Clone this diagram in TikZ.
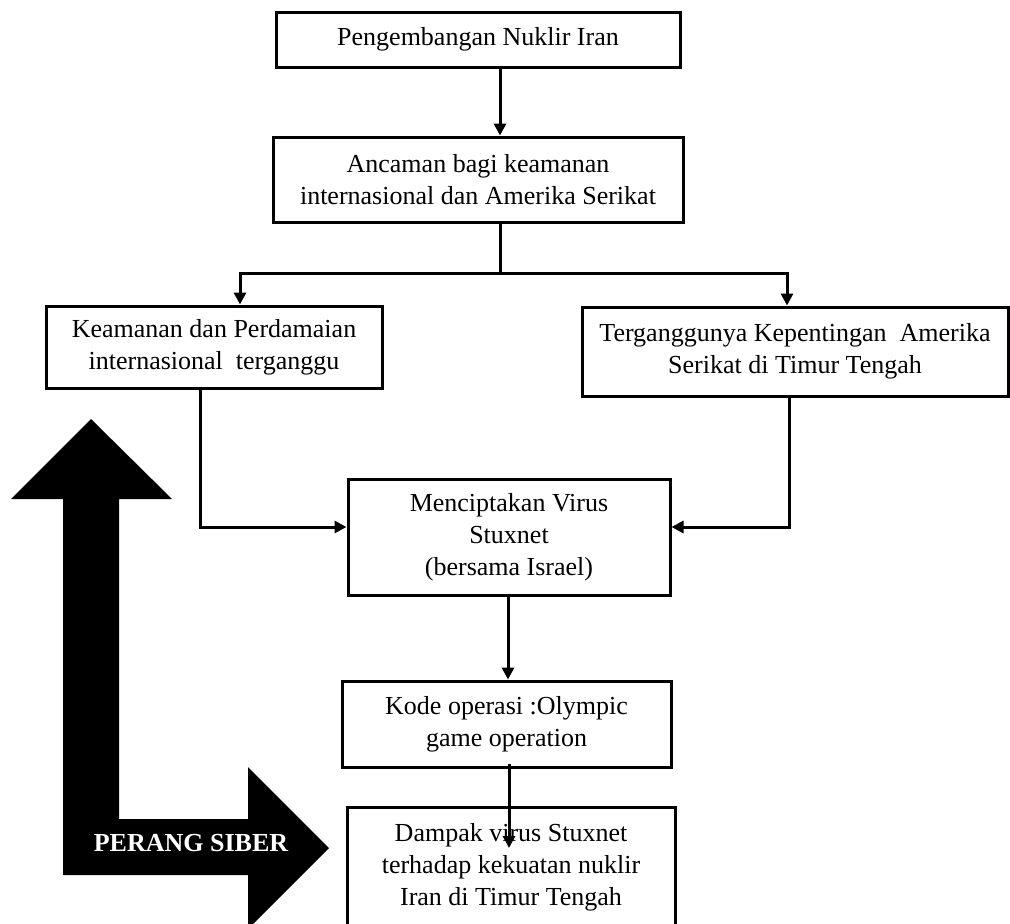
\documentclass[tikz,border=0pt]{standalone}
\usepackage{fontspec}
\setmainfont{Liberation Serif}
\usetikzlibrary{arrows.meta}
\begin{document}
\begin{tikzpicture}[x=1pt,y=-1pt,
  box/.style={draw,line width=3pt,inner sep=0pt,align=center,
    font=\fontsize{26}{32}\selectfont},
  arr/.style={line width=3pt,-{Triangle[length=12pt,width=12pt]}},
  con/.style={line width=3pt}]
\useasboundingbox (0,0) rectangle (1010,924);
\clip (0,0) rectangle (1010,924);
% boxes
\node[box,minimum width=404pt,minimum height=55pt] (b1) at (478,39.5) {Pengembangan Nuklir Iran};
\node[box,minimum width=410pt,minimum height=85pt] (b2) at (478,179.5) {Ancaman bagi keamanan\\internasional dan Amerika Serikat};
\node[box,minimum width=336pt,minimum height=82pt] (b3) at (214,347) {Keamanan dan Perdamaian\\internasional\ \ terganggu};
\node[box,minimum width=426pt,minimum height=89pt] (b4) at (795,351.5) {Terganggunya Kepentingan\ \ Amerika\\Serikat di Timur Tengah};
\node[box,minimum width=322pt,minimum height=116pt] (b5) at (509,537) {Menciptakan Virus\\Stuxnet\\(bersama Israel)};
\node[box,minimum width=329pt,minimum height=86pt] (b6) at (506.5,724) {Kode operasi :Olympic\\game operation};
\node[box,minimum width=328pt,minimum height=120pt] (b7) at (511,867) {Dampak virus Stuxnet\\terhadap kekuatan nuklir\\Iran di Timur Tengah};
% big L arrow
\fill[black] (91,419) -- (172,499) -- (119,499) -- (119,819) -- (248,819) -- (248,767)
  -- (329,848) -- (248,929) -- (248,875) -- (63,875) -- (63,499) -- (11,499) -- cycle;
\node[text=white,font=\fontsize{26}{32}\selectfont\bfseries,inner sep=0pt] (ps) at (191,843) {PERANG SIBER};
% connectors
\coordinate (j) at (500,273);
\coordinate (k) at (509,848);
\draw[arr] ([xshift=22pt]b1.south) -- ([xshift=22pt]b2.north);
\draw[con] ([xshift=22pt]b2.south) -- (j);
\draw[arr] (j) -| ([xshift=26pt]b3.north);
\draw[arr] (j) -| ([xshift=-8pt]b4.north);
\draw[arr] ([xshift=-14pt]b3.south) |- ([yshift=10pt]b5.west);
\draw[arr] ([xshift=-6pt]b4.south) |- ([yshift=10pt]b5.east);
\draw[arr] ([xshift=-1pt]b5.south) -- ([xshift=1.5pt]b6.north);
\draw[arr] ([xshift=2.5pt,yshift=5pt]b6.south) -- (k);
\end{tikzpicture}
\end{document}
